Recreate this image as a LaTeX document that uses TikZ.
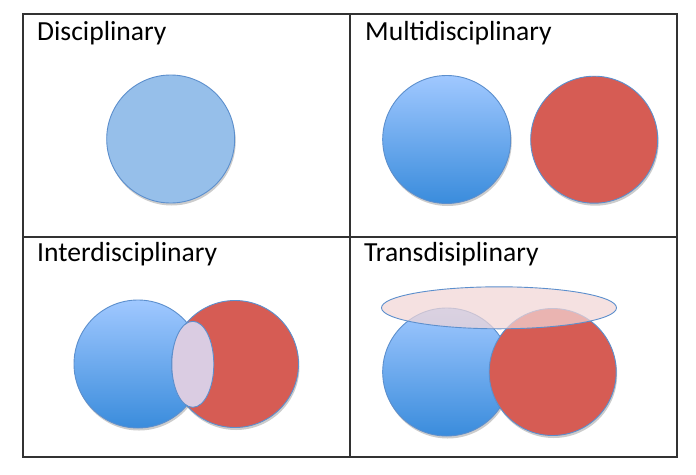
\documentclass[tikz,border=0pt]{standalone}
\usepackage{fontspec}
\setmainfont{Carlito}
\usetikzlibrary{shadows}
\definecolor{edgeblue}{RGB}{92,143,205}
\definecolor{flatblue}{RGB}{150,191,234}
\definecolor{topblue}{RGB}{160,200,255}
\definecolor{botblue}{RGB}{58,140,220}
\definecolor{redfill}{RGB}{214,92,84}
\definecolor{lavender}{RGB}{218,204,226}
\definecolor{pinkfill}{RGB}{242,214,214}
\definecolor{gridline}{RGB}{50,50,50}
\tikzset{
  title/.style={anchor=base west, inner sep=0pt, font=\fontsize{27.6}{30}\selectfont, text=black},
  shad/.style={drop shadow={shadow xshift=1pt, shadow yshift=-2.5pt, opacity=0.2, fill=black}},
  bluecirc/.style={circle, draw=edgeblue, line width=0.9pt, top color=topblue, bottom color=botblue, shad},
  flatcirc/.style={circle, draw=edgeblue, line width=0.9pt, fill=flatblue, shad},
  redcirc/.style={circle, draw=edgeblue, line width=0.9pt, fill=redfill, shad},
  grid/.style={draw=gridline, line width=1.4pt}
}
\begin{document}
\begin{tikzpicture}[x=1pt,y=-1pt]
\useasboundingbox (0,0) rectangle (696,474);
\fill[white] (0,0) rectangle (696,474);
% grid
\draw[grid] (23,14) rectangle (677,457);
\draw[grid] (350,14) -- (350,457);
\draw[grid] (23,237) -- (677,237);
% titles
\node[title] (t1) at (37,40) {Disciplinary};
\node[title] (t2) at (365,40.5) {Multidisciplinary};
\node[title] (t3) at (37,261) {Interdisciplinary};
\node[title] (t4) at (364,261) {Transdisiplinary};
% Disciplinary
\path (170.7,139) node[flatcirc, minimum size=128pt, inner sep=0pt] (d1) {};
% Multidisciplinary
\path (446.7,139.5) node[bluecirc, minimum size=128pt, inner sep=0pt] (m1) {};
\path (594.2,139.7) node[redcirc, minimum size=127pt, inner sep=0pt] (m2) {};
% Interdisciplinary
\path (138,364) node[bluecirc, minimum size=128pt, inner sep=0pt] (i1) {};
\path (235,364) node[redcirc, minimum size=127pt, inner sep=0pt] (i2) {};
\draw[draw=edgeblue, line width=0.9pt, fill=lavender] (192.8,364.3) ellipse [x radius=21pt, y radius=43pt];
% Transdisciplinary
\path (446.7,372) node[bluecirc, minimum size=128pt, inner sep=0pt] (r1) {};
\path (552.7,372) node[redcirc, minimum size=127pt, inner sep=0pt] (r2) {};
\draw[draw=edgeblue, line width=0.9pt, fill=pinkfill, fill opacity=0.72] (499,307.8) ellipse [x radius=117.5pt, y radius=21pt];
\end{tikzpicture}
\end{document}
